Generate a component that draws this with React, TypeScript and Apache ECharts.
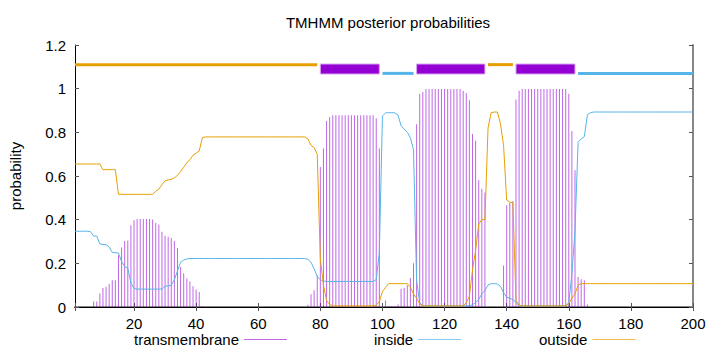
import React, { useEffect, useRef } from "react";
import * as echarts from "echarts";

// Sequence positions 1..200
const positions: number[] = Array.from({ length: 200 }, (_, i) => i + 1);

// Posterior probability of transmembrane helix per residue
const transmembrane: number[] = [
  0, 0, 0, 0, 0, 0, 0.025, 0.025, 0.062, 0.087,
  0.093, 0.105, 0.122, 0.122, 0.237, 0.272, 0.302, 0.305, 0.375, 0.397,
  0.403, 0.403, 0.403, 0.403, 0.403, 0.401, 0.385, 0.378, 0.345, 0.326,
  0.322, 0.316, 0.302, 0.27, 0.183, 0.155, 0.13, 0.117, 0.095, 0.08,
  0.069, 0.003, 0, 0, 0, 0, 0, 0, 0, 0,
  0, 0, 0, 0, 0, 0, 0, 0, 0, 0,
  0, 0, 0, 0, 0, 0, 0, 0, 0, 0,
  0, 0, 0, 0, 0, 0.01, 0.058, 0.077, 0.145, 0.641,
  0.726, 0.852, 0.87, 0.878, 0.878, 0.878, 0.878, 0.878, 0.878, 0.878,
  0.878, 0.878, 0.878, 0.878, 0.878, 0.878, 0.878, 0.865, 0.726, 0,
  0.03, 0.005, 0.005, 0.005, 0.012, 0.084, 0.087, 0.1, 0.133, 0.2,
  0.837, 0.977, 0.985, 0.998, 0.998, 0.998, 0.998, 0.998, 0.998, 0.998,
  0.998, 0.998, 0.998, 0.998, 0.998, 0.99, 0.98, 0.947, 0.792, 0.762,
  0.58, 0.542, 0.525, 0, 0, 0, 0, 0, 0.19, 0.466,
  0.477, 0.486, 0.95, 0.99, 0.998, 0.998, 0.998, 0.998, 0.998, 0.998,
  0.998, 0.998, 0.998, 0.998, 0.998, 0.998, 0.998, 0.998, 0.998, 0.977,
  0.806, 0.626, 0.137, 0.127, 0.122, 0.012, 0, 0, 0, 0,
  0, 0, 0, 0, 0, 0, 0, 0, 0, 0,
  0, 0, 0, 0, 0, 0, 0, 0, 0, 0,
  0, 0, 0, 0, 0, 0, 0, 0, 0, 0,
];

// Posterior probability of "inside"
const inside: number[] = [
  0.347, 0.347, 0.347, 0.347, 0.347, 0.345, 0.325, 0.325, 0.289, 0.287,
  0.285, 0.275, 0.25, 0.249, 0.247, 0.208, 0.185, 0.178, 0.11, 0.085,
  0.082, 0.082, 0.082, 0.082, 0.082, 0.082, 0.082, 0.082, 0.082, 0.095,
  0.097, 0.1, 0.125, 0.165, 0.205, 0.215, 0.22, 0.222, 0.222, 0.222,
  0.222, 0.222, 0.222, 0.222, 0.222, 0.222, 0.222, 0.222, 0.222, 0.222,
  0.222, 0.222, 0.222, 0.222, 0.222, 0.222, 0.222, 0.222, 0.222, 0.222,
  0.222, 0.222, 0.222, 0.222, 0.222, 0.222, 0.222, 0.222, 0.222, 0.222,
  0.222, 0.222, 0.222, 0.222, 0.222, 0.218, 0.205, 0.175, 0.14, 0.125,
  0.119, 0.117, 0.117, 0.117, 0.117, 0.117, 0.117, 0.117, 0.117, 0.117,
  0.117, 0.117, 0.117, 0.117, 0.117, 0.117, 0.117, 0.125, 0.25, 0.875,
  0.889, 0.89, 0.89, 0.889, 0.88, 0.83, 0.815, 0.8, 0.775, 0.72,
  0.12, 0.02, 0.005, 0.005, 0.005, 0.005, 0.005, 0.005, 0.005, 0.005,
  0.005, 0.005, 0.005, 0.005, 0.005, 0.005, 0.005, 0.006, 0.01, 0.02,
  0.035, 0.06, 0.076, 0.1, 0.107, 0.107, 0.105, 0.095, 0.065, 0.045,
  0.04, 0.035, 0.02, 0.005, 0.005, 0.005, 0.005, 0.005, 0.005, 0.005,
  0.005, 0.005, 0.005, 0.005, 0.005, 0.005, 0.005, 0.005, 0.005, 0.02,
  0.15, 0.35, 0.755, 0.77, 0.78, 0.88, 0.89, 0.893, 0.893, 0.893,
  0.893, 0.893, 0.893, 0.893, 0.893, 0.893, 0.893, 0.893, 0.893, 0.893,
  0.893, 0.893, 0.893, 0.893, 0.893, 0.893, 0.893, 0.893, 0.893, 0.893,
  0.893, 0.893, 0.893, 0.893, 0.893, 0.893, 0.893, 0.893, 0.893, 0.893,
];

// Posterior probability of "outside"
const outside: number[] = [
  0.655, 0.655, 0.655, 0.655, 0.655, 0.655, 0.655, 0.655, 0.655, 0.629,
  0.629, 0.629, 0.629, 0.629, 0.516, 0.516, 0.516, 0.516, 0.516, 0.516,
  0.516, 0.516, 0.516, 0.516, 0.516, 0.516, 0.53, 0.54, 0.56, 0.578,
  0.582, 0.585, 0.592, 0.603, 0.62, 0.64, 0.66, 0.675, 0.695, 0.705,
  0.715, 0.775, 0.779, 0.779, 0.779, 0.779, 0.779, 0.779, 0.779, 0.779,
  0.779, 0.779, 0.779, 0.779, 0.779, 0.779, 0.779, 0.779, 0.779, 0.779,
  0.779, 0.779, 0.779, 0.779, 0.779, 0.779, 0.779, 0.779, 0.779, 0.779,
  0.779, 0.779, 0.779, 0.779, 0.779, 0.77, 0.74, 0.73, 0.7, 0.22,
  0.1, 0.03, 0.012, 0.005, 0.005, 0.005, 0.005, 0.005, 0.005, 0.005,
  0.005, 0.005, 0.005, 0.005, 0.005, 0.005, 0.005, 0.008, 0.025, 0.07,
  0.09, 0.107, 0.107, 0.107, 0.107, 0.107, 0.107, 0.107, 0.09, 0.06,
  0.04, 0.015, 0.005, 0.005, 0.005, 0.005, 0.005, 0.005, 0.005, 0.005,
  0.005, 0.005, 0.005, 0.005, 0.005, 0.005, 0.02, 0.05, 0.17, 0.26,
  0.38, 0.4, 0.4, 0.82, 0.89, 0.893, 0.893, 0.84, 0.74, 0.49,
  0.48, 0.477, 0.03, 0.008, 0.005, 0.005, 0.005, 0.005, 0.005, 0.005,
  0.005, 0.005, 0.005, 0.005, 0.005, 0.005, 0.005, 0.005, 0.005, 0.015,
  0.04, 0.06, 0.1, 0.107, 0.107, 0.107, 0.107, 0.107, 0.107, 0.107,
  0.107, 0.107, 0.107, 0.107, 0.107, 0.107, 0.107, 0.107, 0.107, 0.107,
  0.107, 0.107, 0.107, 0.107, 0.107, 0.107, 0.107, 0.107, 0.107, 0.107,
  0.107, 0.107, 0.107, 0.107, 0.107, 0.107, 0.107, 0.107, 0.107, 0.107,
];

// Predicted topology segments (drawn along the top)
const segType: string[] = ["outside", "TMhelix", "inside", "TMhelix", "outside", "TMhelix", "inside"];
const segStart: number[] = [1, 80, 100, 111, 134, 143, 163];
const segEnd: number[] = [79, 99, 110, 133, 142, 162, 200];
const segLevel: Record<string, number> = { outside: 1.11, TMhelix: 1.09, inside: 1.07 };

const xTickStep = 20;
const yTicks: number[] = [0, 0.2, 0.4, 0.6, 0.8, 1, 1.2];

const FONT = "'Liberation Sans', Arial, sans-serif";
const C_TM = "#9400D3";
const C_IN = "#56B4E9";
const C_OUT = "#E69F00";

export default function App() {
  const ref = useRef<HTMLDivElement>(null);
  useEffect(() => {
    if (!ref.current) return;
    const chart = echarts.init(ref.current, null, { renderer: "svg" });
    const segData = segType.map((t, i) => [segStart[i], segEnd[i], segLevel[t], i]);
    const segStyle: Record<string, { color: string; h: number }> = {
      outside: { color: C_OUT, h: 3 },
      TMhelix: { color: C_TM, h: 10 },
      inside: { color: C_IN, h: 3 },
    };
    const legendText = { fontFamily: FONT, fontSize: 15, color: "#000" };
    const option: any = {
      animation: false,
      backgroundColor: "#ffffff",
      textStyle: { fontFamily: FONT },
      title: {
        text: "TMHMM posterior probabilities",
        left: 383,
        textAlign: "center",
        top: 10,
        textStyle: { fontFamily: FONT, fontSize: 15, fontWeight: "normal", color: "#000" },
      },
      legend: [
        {
          data: [{ name: "transmembrane", icon: "rect", itemStyle: { color: C_TM, opacity: 0.6 } }],
          left: 134, top: 332, align: "right", itemWidth: 43, itemHeight: 1, padding: 0,
          textStyle: legendText,
        },
        {
          data: [{ name: "inside", icon: "rect", itemStyle: { color: C_IN, opacity: 0.7 } }],
          left: 374, top: 332, align: "right", itemWidth: 43, itemHeight: 1, padding: 0,
          textStyle: legendText,
        },
        {
          data: [{ name: "outside", icon: "rect", itemStyle: { color: C_OUT, opacity: 0.7 } }],
          left: 539, top: 332, align: "right", itemWidth: 43, itemHeight: 1, padding: 0,
          textStyle: legendText,
        },
      ],
      grid: { left: 73, right: 27, top: 45, bottom: 45, containLabel: false },
      xAxis: [
        {
          type: "value", position: "bottom", min: 1, max: 200, splitNumber: 10,
          axisLine: { show: true, lineStyle: { color: "#888", width: 2 } },
          axisTick: { show: true, inside: true, length: 4, lineStyle: { color: "#555" } },
          axisLabel: {
            color: "#000", fontSize: 15, fontFamily: FONT, margin: 9,
            formatter: (v: number) => (v % xTickStep === 0 ? String(v) : ""),
          },
          splitLine: { show: false },
        },
        {
          type: "value", position: "top", min: 1, max: 200, splitNumber: 10,
          axisLine: { show: true, lineStyle: { color: "#000", width: 1 } },
          axisTick: { show: true, inside: true, length: 4, lineStyle: { color: "#555" } },
          axisLabel: { show: false },
          splitLine: { show: false },
        },
      ],
      yAxis: [
        {
          type: "value", position: "left", min: yTicks[0], max: yTicks[yTicks.length - 1], interval: 0.2,
          name: "probability", nameLocation: "middle", nameGap: 52,
          nameTextStyle: { fontFamily: FONT, fontSize: 15, color: "#000" },
          axisLine: { show: true, lineStyle: { color: "#000", width: 1 } },
          axisTick: { show: true, inside: true, length: 4, lineStyle: { color: "#555" } },
          axisLabel: { color: "#000", fontSize: 15, fontFamily: FONT, margin: 9 },
          splitLine: { show: false },
        },
        {
          type: "value", position: "right", min: yTicks[0], max: yTicks[yTicks.length - 1], interval: 0.2,
          axisLine: { show: true, lineStyle: { color: "#888", width: 2 } },
          axisTick: { show: true, inside: true, length: 4, lineStyle: { color: "#555" } },
          axisLabel: { show: false },
          splitLine: { show: false },
        },
      ],
      series: [
        {
          name: "transmembrane", type: "bar", xAxisIndex: 0, yAxisIndex: 0,
          barWidth: 1, itemStyle: { color: C_TM, opacity: 0.6 },
          data: positions.map((p, i) => [p, transmembrane[i]]),
        },
        {
          name: "inside", type: "line", xAxisIndex: 0, yAxisIndex: 0,
          symbol: "none", lineStyle: { color: C_IN, width: 1 }, itemStyle: { color: C_IN },
          data: positions.map((p, i) => [p, inside[i]]),
        },
        {
          name: "outside", type: "line", xAxisIndex: 0, yAxisIndex: 0,
          symbol: "none", lineStyle: { color: C_OUT, width: 1 }, itemStyle: { color: C_OUT },
          data: positions.map((p, i) => [p, outside[i]]),
        },
        {
          name: "topology", type: "custom", xAxisIndex: 0, yAxisIndex: 0,
          encode: { x: [0, 1], y: 2 },
          data: segData,
          renderItem: (params: any, api: any) => {
            const s = api.value(0);
            const e = api.value(1);
            const y = api.value(2);
            const t = segType[api.value(3)];
            const st = segStyle[t];
            const p0 = api.coord([s, y]);
            const p1 = api.coord([e, y]);
            return {
              type: "rect",
              shape: { x: p0[0], y: p0[1] - st.h / 2, width: p1[0] - p0[0], height: st.h },
              style: { fill: st.color, stroke: t === "TMhelix" ? "#d9a6f0" : null, lineWidth: 1 },
            };
          },
        },
      ],
    };
    chart.setOption(option);
    return () => chart.dispose();
  }, []);
  return (
    <div
      ref={ref}
      style={{ position: "absolute", left: 0, top: 0, width: 720, height: 352 }}
    />
  );
}
